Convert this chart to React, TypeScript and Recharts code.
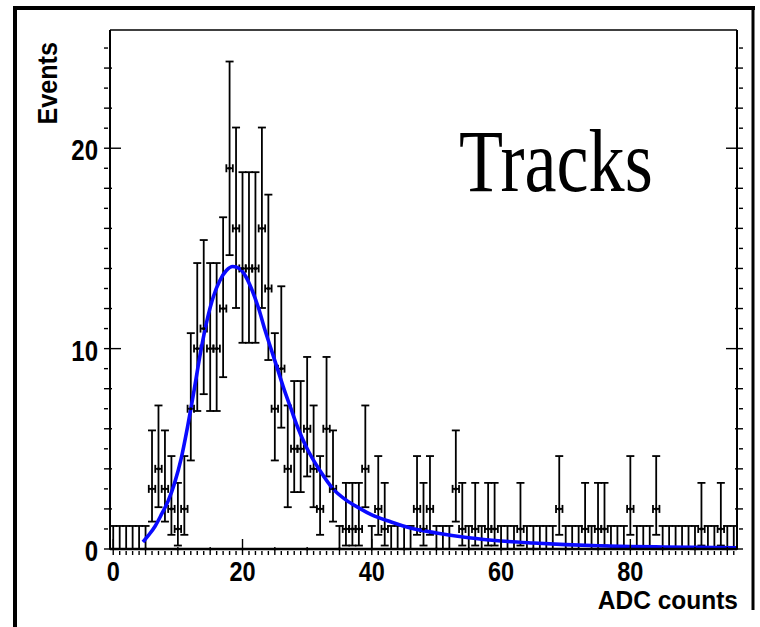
import React from "react";
import { ComposedChart, Scatter, ErrorBar, Line, XAxis, YAxis } from "recharts";

// ADC counts histogram, one bin per ADC count (0..96)
const counts = [
  0, 0, 0, 0, 0, 0, 3, 4, 3, 2, 1, 2, 7, 10, 11, 10, 10, 12, 19, 16, 14, 14, 14, 16, 13,
  7, 9, 4, 5, 5, 6, 4, 2, 6, 3, 0, 1, 1, 1, 4, 0, 2, 1, 0, 0, 0, 0, 2, 1, 2, 0, 0, 0,
  3, 1, 0, 1, 0, 1, 1, 0, 0, 0, 1, 0, 0, 0, 0, 0, 2, 0, 0, 0, 1, 0, 1, 1, 0, 0, 0, 2,
  0, 0, 0, 2, 0, 0, 0, 0, 0, 0, 1, 0, 0, 1, 0, 0,
];

// poisson (68%) error bars, indexed by count
const errLow = [0, 0.827, 1.292, 1.633, 1.914, 2.16, 2.38, 2.581, 2.768, 2.945, 3.113, 3.273, 3.425, 3.57, 3.71, 3.846, 3.973, 4.1, 4.22, 4.335];
const errHigh = [1.15, 2.3, 2.638, 2.918, 3.163, 3.382, 3.584, 3.772, 3.946, 4.111, 4.27, 4.418, 4.555, 4.684, 4.805, 4.917, 5.033, 5.13, 5.23, 5.327];

// fitted curve
const fitX = [4.6, 5.5, 6.5, 7.5, 8.5, 9.5, 10.5, 11.5, 12.5, 13.5, 14.5, 15.5, 16.5, 17.5, 18.5, 19.5, 20.5, 21.5, 22.5, 23.5, 24.5, 25.5, 26.5, 27.5, 28.5, 30, 32, 34, 36, 38, 40, 43, 46, 50, 55, 60, 65, 70, 75, 80, 85, 90, 96.5];
const fitY = [0.35, 0.7, 1.15, 1.75, 2.4, 3.3, 4.5, 6.1, 7.9, 9.8, 11.4, 12.6, 13.4, 13.9, 14.1, 14.0, 13.6, 12.9, 12.0, 10.9, 9.9, 8.9, 7.9, 7.0, 6.1, 5.0, 3.9, 3.0, 2.45, 2.05, 1.7, 1.35, 1.05, 0.8, 0.56, 0.4, 0.3, 0.22, 0.16, 0.12, 0.1, 0.08, 0.06];

const xTicks = Array.from({ length: 97 }, (_, i) => i);
const yTicks = Array.from({ length: 26 }, (_, i) => i);

const bins = counts.map((n, i) => ({ x: i, y: n, ey: [errLow[n], errHigh[n]], ex: 0.5 }));
const filled = bins.filter((b) => b.y > 0);
const empty = bins.filter((b) => b.y === 0);
const fitData = fitX.map((x, i) => ({ x, y: fitY[i] }));

const labelFont = "'Liberation Sans', Arial, sans-serif";

const XTick = ({ x, y, payload, top }: any) => {
  const v = payload.value;
  const len = v % 20 === 0 ? 16 : v % 5 === 0 ? 8 : 4;
  const dir = top ? 1 : -1;
  return (
    <g>
      <line x1={x} x2={x} y1={y} y2={y + dir * len} stroke="#000" strokeWidth={1.4} />
      {!top && v % 20 === 0 && (
        <text
          transform={`translate(${x},${y + 26}) scale(0.84,1)`}
          textAnchor="middle"
          fontFamily={labelFont}
          fontWeight="bold"
          fontSize={28}
          fill="#000"
        >
          {v}
        </text>
      )}
    </g>
  );
};

const YTick = ({ x, y, payload, right }: any) => {
  const v = payload.value;
  const len = v % 10 === 0 ? 17 : v % 2 === 0 ? 8 : 4;
  const dir = right ? -1 : 1;
  return (
    <g>
      <line x1={x} x2={x + dir * len} y1={y} y2={y} stroke="#000" strokeWidth={1.4} />
      {!right && v % 10 === 0 && (
        <text
          transform={`translate(${x - 6},${y + 12}) scale(0.8,1)`}
          textAnchor="end"
          fontFamily={labelFont}
          fontWeight="bold"
          fontSize={30}
          fill="#000"
        >
          {v}
        </text>
      )}
    </g>
  );
};

const Dot = ({ cx, cy }: any) => <circle cx={cx} cy={cy} r={1.6} fill="#000" />;
const NoDot = () => <g />;

export default function App() {
  return (
    <div style={{ position: "absolute", left: 0, top: 0, width: 760, height: 627, background: "#fff" }}>
      <ComposedChart
        width={760}
        height={627}
        margin={{ top: 29, right: 22, bottom: 38, left: 50 }}
      >
        <XAxis
          type="number"
          dataKey="x"
          domain={[-0.5, 96.5]}
          ticks={xTicks}
          interval={0}
          tickLine={false}
          tickMargin={0}
          height={40}
          axisLine={{ stroke: "#000", strokeWidth: 2.4 }}
          tick={<XTick />}
          allowDataOverflow
        />
        <XAxis
          xAxisId="top"
          orientation="top"
          type="number"
          domain={[-0.5, 96.5]}
          ticks={xTicks}
          interval={0}
          tickLine={false}
          tickMargin={0}
          height={1}
          axisLine={{ stroke: "#000", strokeWidth: 1.6 }}
          tick={<XTick top />}
          allowDataOverflow
        />
        <YAxis
          type="number"
          domain={[0, 25.9]}
          ticks={yTicks}
          interval={0}
          tickLine={false}
          tickMargin={0}
          width={60}
          axisLine={{ stroke: "#000", strokeWidth: 2 }}
          tick={<YTick />}
          allowDataOverflow
        />
        <YAxis
          yAxisId="right"
          orientation="right"
          type="number"
          domain={[0, 25.9]}
          ticks={yTicks}
          interval={0}
          tickLine={false}
          tickMargin={0}
          width={1}
          axisLine={{ stroke: "#000", strokeWidth: 2 }}
          tick={<YTick right />}
          allowDataOverflow
        />
        <Scatter data={empty} dataKey="y" shape={<NoDot />} isAnimationActive={false}>
          <ErrorBar dataKey="ey" direction="y" width={4} stroke="#000" strokeWidth={1.8} />
        </Scatter>
        <Scatter data={filled} dataKey="y" shape={<Dot />} isAnimationActive={false}>
          <ErrorBar dataKey="ey" direction="y" width={4} stroke="#000" strokeWidth={1.8} />
          <ErrorBar dataKey="ex" direction="x" width={4} stroke="#000" strokeWidth={1.8} />
        </Scatter>
        <Line
          data={fitData}
          dataKey="y"
          type="monotone"
          stroke="#0a0aff"
          strokeWidth={3.6}
          dot={false}
          isAnimationActive={false}
        />
      </ComposedChart>
      <svg
        width={760}
        height={627}
        style={{ position: "absolute", left: 0, top: 0, pointerEvents: "none" }}
      >
        <line x1={15} x2={15} y1={6} y2={627} stroke="#000" strokeWidth={4} />
        <line x1={13} x2={755} y1={8} y2={8} stroke="#000" strokeWidth={4} />
        <line x1={753} x2={753} y1={6} y2={610} stroke="#000" strokeWidth={3} />
        <text
          transform="translate(57,42) rotate(-90) scale(0.9,1)"
          textAnchor="end"
          fontFamily={labelFont}
          fontWeight="bold"
          fontSize={28}
          fill="#000"
        >
          Events
        </text>
        <text
          transform="translate(738,609) scale(0.98,1)"
          textAnchor="end"
          fontFamily={labelFont}
          fontWeight="bold"
          fontSize={25}
          fill="#000"
        >
          ADC counts
        </text>
        <text
          transform="translate(459,191) scale(0.82,1)"
          fontFamily="'Liberation Serif', 'Times New Roman', serif"
          fontSize={88}
          fill="#000"
        >
          Tracks
        </text>
      </svg>
    </div>
  );
}
